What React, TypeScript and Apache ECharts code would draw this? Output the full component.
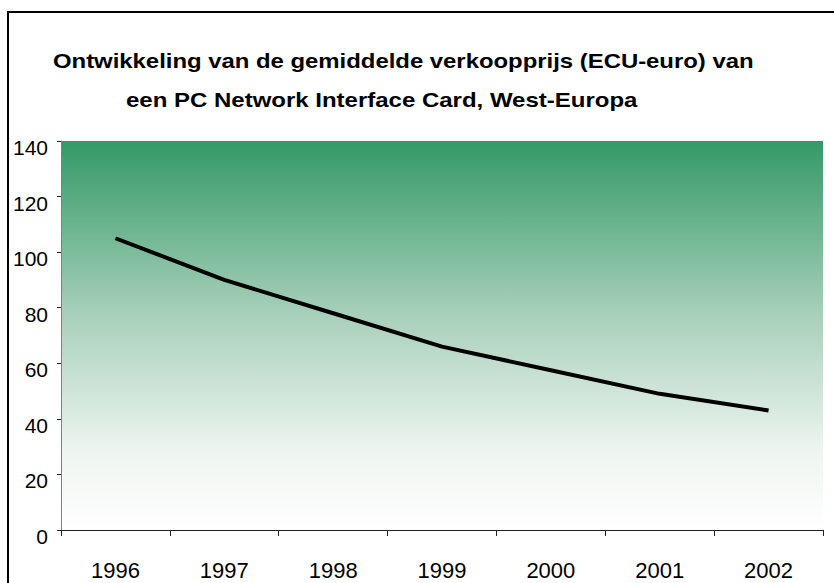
import React, { useEffect, useRef } from "react";
import * as echarts from "echarts";

const years = ["1996", "1997", "1998", "1999", "2000", "2001", "2002"];
const prices = [105, 90, 78, 66, 57.5, 49, 43];
const titleLine1 = "Ontwikkeling van de gemiddelde verkoopprijs (ECU-euro) van";
const titleLine2 = "een PC Network Interface Card, West-Europa";

const FONT = "'Liberation Sans', Arial, sans-serif";

export default function App() {
  const ref = useRef<HTMLDivElement>(null);
  useEffect(() => {
    document.body.style.margin = "0";
    const chart = echarts.init(ref.current!, null, { renderer: "svg" });
    chart.setOption({
      animation: false,
      backgroundColor: "#ffffff",
      graphic: [
        {
          type: "rect",
          shape: { x: 8, y: 12, width: 900, height: 700 },
          style: { fill: "none", stroke: "#000", lineWidth: 2 },
          silent: true,
        },
        {
          type: "text",
          x: 53,
          y: 51,
          scaleX: 1.195,
          style: {
            text: titleLine1,
            fontFamily: FONT,
            fontWeight: "bold",
            fontSize: 20,
            fill: "#000",
            verticalAlign: "top",
          },
        },
        {
          type: "text",
          x: 126,
          y: 90,
          scaleX: 1.2,
          style: {
            text: titleLine2,
            fontFamily: FONT,
            fontWeight: "bold",
            fontSize: 20,
            fill: "#000",
            verticalAlign: "top",
          },
        },
      ],
      grid: {
        left: 61,
        top: 141,
        right: 11,
        bottom: 53,
        show: true,
        borderWidth: 0,
        backgroundColor: new echarts.graphic.LinearGradient(0, 0, 0, 1, [
          { offset: 0, color: "#339966" },
          { offset: 0.45, color: "#a9d0bb" },
          { offset: 0.8, color: "#eef5f0" },
          { offset: 1, color: "#ffffff" },
        ]),
      },
      xAxis: {
        type: "category",
        data: years,
        boundaryGap: true,
        axisLine: { show: true, lineStyle: { color: "#222", width: 1 } },
        axisTick: { show: true, inside: false, length: 6, lineStyle: { color: "#222" } },
        axisLabel: {
          fontFamily: FONT,
          fontSize: 22,
          color: "#000",
          margin: 29,
        },
        splitLine: { show: false },
      },
      yAxis: {
        type: "value",
        min: 0,
        max: 140,
        interval: 20,
        axisLine: { show: true, lineStyle: { color: "#808080", width: 1 } },
        axisTick: { show: true, length: 4, lineStyle: { color: "#222" } },
        axisLabel: {
          fontFamily: FONT,
          fontSize: 21,
          color: "#000",
          margin: 13,
          verticalAlign: "top",
          lineHeight: 13,
        },
        splitLine: { show: false },
      },
      series: [
        {
          type: "line",
          data: prices,
          symbol: "none",
          lineStyle: { color: "#000", width: 4, cap: "butt" },
        },
      ],
    });
    return () => chart.dispose();
  }, []);
  return <div ref={ref} style={{ position: "fixed", left: 0, top: 0, width: 834, height: 583 }} />;
}
